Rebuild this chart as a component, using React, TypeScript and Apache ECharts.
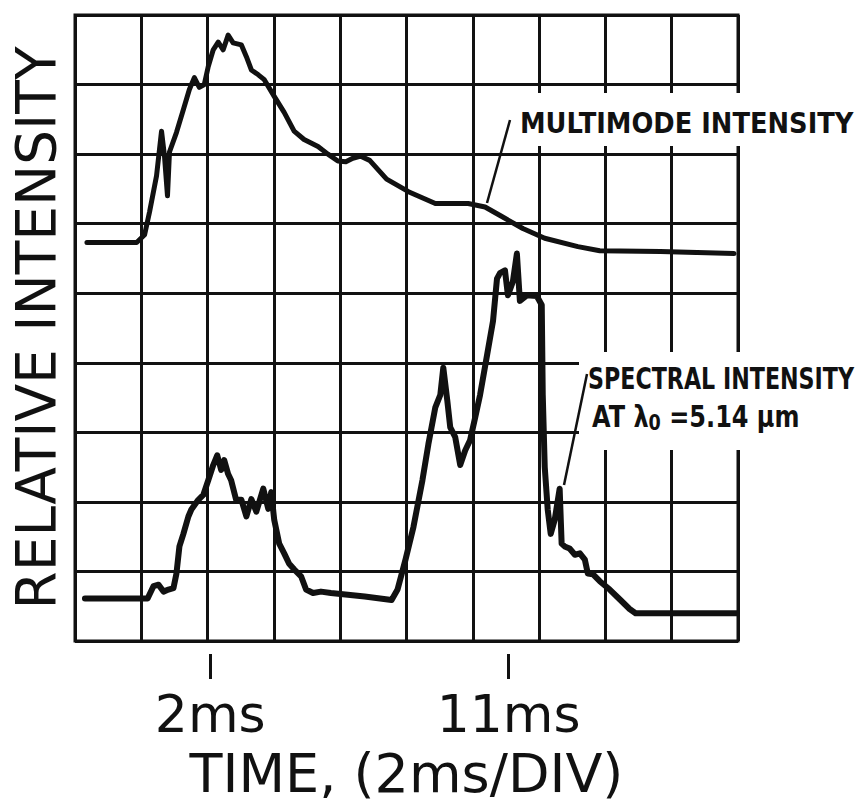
import React, { useEffect, useRef } from "react";
import * as echarts from "echarts";

// Time axis (ms): 2 ms per division, 10 divisions
const TIME_MIN = -2.08;
const TIME_MAX = TIME_MIN + 20;
const TIME_TICKS = [2, 11];
const DIVISIONS_X = 10;
const DIVISIONS_Y = 9;

// Multimode intensity trace (time in ms, value in divisions)
const multimodeTime = [
  -1.72, -0.22, 0.02, 0.17, 0.38, 0.53, 0.62, 0.71, 0.77, 0.98, 1.19, 1.37, 1.52, 1.67,
  1.82, 1.94, 2.09, 2.24, 2.39, 2.54, 2.69, 2.94, 3.09, 3.24, 3.45, 3.63, 3.93, 4.23,
  4.53, 4.83, 5.25, 5.55, 5.85, 6.09, 6.3, 6.54, 6.81, 7.32, 7.98, 8.79, 9.78, 10.29,
  10.77, 11.43, 12.09, 13.09, 13.75, 15.58, 17.8,
];
const multimodeValue = [
  5.73, 5.73, 5.84, 6.17, 6.69, 7.33, 6.97, 6.4, 7.03, 7.31, 7.64, 7.93, 8.1, 7.96,
  8.0, 8.26, 8.5, 8.61, 8.5, 8.71, 8.6, 8.57, 8.4, 8.21, 8.14, 8.07, 7.83, 7.6,
  7.33, 7.21, 7.11, 7.0, 6.9, 6.89, 6.94, 6.97, 6.91, 6.64, 6.46, 6.29, 6.29, 6.24,
  6.11, 5.93, 5.79, 5.67, 5.61, 5.6, 5.57,
];

// Spectral intensity trace at lambda0 = 5.14 um
const spectralTime = [
  -1.78, 0.11, 0.29, 0.44, 0.59, 0.74, 0.89, 0.98, 1.07, 1.19, 1.34, 1.43, 1.64, 1.79,
  1.94, 2.09, 2.21, 2.33, 2.42, 2.54, 2.63, 2.78, 2.94, 3.09, 3.24, 3.39, 3.6, 3.75,
  3.84, 3.93, 4.08, 4.23, 4.38, 4.53, 4.74, 4.89, 5.1, 5.34, 5.64, 6.66, 7.47, 7.65,
  7.89, 8.13, 8.4, 8.58, 8.79, 8.94, 9.03, 9.15, 9.24, 9.39, 9.54, 9.69, 9.84, 9.99,
  10.14, 10.35, 10.53, 10.65, 10.74, 10.89, 10.98, 11.13, 11.25, 11.34, 11.55, 11.85,
  12.0, 12.03, 12.09, 12.18, 12.27, 12.39, 12.54, 12.6, 12.69, 12.84, 13.0, 13.15,
  13.3, 13.39, 13.54, 13.75, 14.05, 14.35, 14.65, 14.83, 17.89,
];
const spectralValue = [
  0.61, 0.61, 0.79, 0.81, 0.71, 0.74, 0.76, 0.97, 1.36, 1.54, 1.79, 1.89, 2.03, 2.1,
  2.31, 2.53, 2.67, 2.46, 2.6, 2.4, 2.31, 2.03, 2.03, 1.79, 2.04, 1.86, 2.19, 1.9,
  2.14, 1.74, 1.4, 1.26, 1.11, 1.03, 0.93, 0.74, 0.69, 0.71, 0.69, 0.64, 0.59, 0.74,
  1.17, 1.64, 2.31, 2.83, 3.36, 3.54, 3.93, 3.46, 3.07, 2.93, 2.53, 2.74, 2.89, 3.21,
  3.54, 4.11, 4.6, 5.21, 5.29, 5.33, 4.97, 5.17, 5.57, 4.89, 4.97, 4.96,
  4.83, 3.54, 2.5, 1.89, 1.54, 1.74, 2.19, 1.4, 1.36, 1.33, 1.24, 1.26,
  1.17, 0.97, 0.96, 0.86, 0.74, 0.6, 0.46, 0.4, 0.4,
];

const INK = "#111111";
const MAIN_FONT = "DejaVu Sans";

export default function App() {
  const ref = useRef<HTMLDivElement>(null);

  useEffect(() => {
    if (!ref.current) return;
    const chart = echarts.init(ref.current, undefined, { renderer: "svg" });

    const multimode = multimodeTime.map((t, i) => [t, multimodeValue[i]]);
    const spectral = spectralTime.map((t, i) => [t, spectralValue[i]]);

    chart.setOption({
      animation: false,
      backgroundColor: "#ffffff",
      grid: {
        left: 72,
        right: 125,
        top: 15,
        bottom: 160,
        show: true,
        borderColor: INK,
        borderWidth: 3,
      },
      xAxis: [
        {
          type: "value",
          min: 0,
          max: DIVISIONS_X,
          interval: 1,
          axisLine: { show: false },
          axisTick: { show: false },
          axisLabel: { show: false },
          splitLine: { show: true, lineStyle: { color: INK, width: 3 } },
        },
        {
          type: "value",
          position: "bottom",
          offset: 13,
          min: TIME_MIN,
          max: TIME_MAX,
          axisLine: { show: false },
          axisTick: {
            show: true,
            customValues: TIME_TICKS,
            length: 25,
            lineStyle: { color: INK, width: 3 },
          },
          axisLabel: {
            show: true,
            customValues: TIME_TICKS,
            formatter: (v: number) => `${v}ms`,
            fontFamily: MAIN_FONT,
            fontSize: 52,
            color: INK,
            margin: 34,
          },
          splitLine: { show: false },
          name: "TIME, (2ms/DIV)",
          nameLocation: "middle",
          nameGap: 92,
          nameTextStyle: { fontFamily: MAIN_FONT, fontSize: 54, color: INK },
        },
      ],
      yAxis: {
        type: "value",
        min: 0,
        max: DIVISIONS_Y,
        interval: 1,
        axisLine: { show: false },
        axisTick: { show: false },
        axisLabel: { show: false },
        splitLine: { show: true, lineStyle: { color: INK, width: 3 } },
        name: "RELATIVE INTENSITY",
        nameLocation: "middle",
        nameRotate: 90,
        nameGap: 12,
        nameTextStyle: { fontFamily: MAIN_FONT, fontSize: 55, color: INK },
      },
      series: [
        {
          name: "MULTIMODE INTENSITY",
          type: "line",
          xAxisIndex: 1,
          data: multimode,
          showSymbol: false,
          lineStyle: { color: INK, width: 5, cap: "round", join: "round" },
          z: 5,
        },
        {
          name: "SPECTRAL INTENSITY",
          type: "line",
          xAxisIndex: 1,
          data: spectral,
          showSymbol: false,
          lineStyle: { color: INK, width: 6, cap: "round", join: "round" },
          z: 5,
        },
      ],
      graphic: [
        { type: "rect", z: 100, shape: { x: 515, y: 93, width: 348, height: 53 }, style: { fill: "#ffffff" } },
        {
          type: "text",
          z: 101,
          x: 520,
          y: 123,
          scaleX: 0.92,
          style: {
            text: "MULTIMODE INTENSITY",
            font: `bold 28px ${MAIN_FONT}`,
            fill: INK,
            align: "left",
            verticalAlign: "middle",
          },
        },
        { type: "line", z: 101, shape: { x1: 510, y1: 120, x2: 487, y2: 203 }, style: { stroke: INK, lineWidth: 2.5 } },
        { type: "rect", z: 100, shape: { x: 579, y: 352, width: 284, height: 98 }, style: { fill: "#ffffff" } },
        {
          type: "text",
          z: 101,
          x: 588,
          y: 379,
          scaleX: 0.74,
          style: {
            text: "SPECTRAL INTENSITY",
            font: `bold 30px ${MAIN_FONT}`,
            fill: INK,
            align: "left",
            verticalAlign: "middle",
          },
        },
        {
          type: "text",
          z: 101,
          x: 592,
          y: 417,
          scaleX: 0.8,
          style: {
            text: "{a|AT λ}{s|0}{a| =5.14 μm}",
            align: "left",
            verticalAlign: "middle",
            rich: {
              a: { font: `bold 30px ${MAIN_FONT}`, fill: INK, lineHeight: 34 },
              s: { font: `bold 22px ${MAIN_FONT}`, fill: INK, lineHeight: 22, verticalAlign: "bottom" },
            },
          },
        },
        { type: "line", z: 101, shape: { x1: 587, y1: 374, x2: 564, y2: 485 }, style: { stroke: INK, lineWidth: 2.5 } },
      ],
    });

    return () => chart.dispose();
  }, []);

  return (
    <div
      ref={ref}
      style={{ position: "fixed", left: 0, top: 0, width: 863, height: 805, background: "#fff" }}
    />
  );
}
